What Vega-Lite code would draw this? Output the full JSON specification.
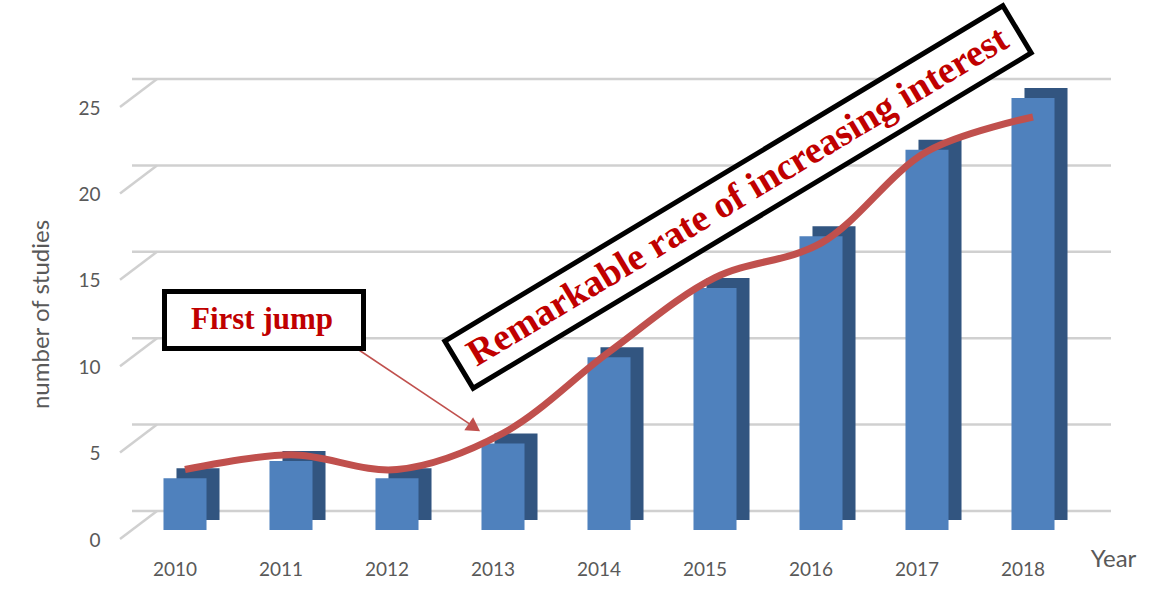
{
  "$schema": "https://vega.github.io/schema/vega-lite/v6.json",
  "width": 954,
  "height": 432,
  "autosize": "none",
  "padding": {"left": 132, "top": 98, "right": 77, "bottom": 85},
  "background": "white",
  "config": {
    "view": {"stroke": null},
    "font": "Lato",
    "axis": {
      "titleFontSize": 24, "titleFontWeight": "normal", "titleColor": "#595959", "titleFont": "Lato",
      "labelFontSize": 19, "labelColor": "#595959", "labelFont": "Lato",
      "ticks": false, "tickSize": 0, "domain": false, "grid": false
    },
    "axisX": {
      "titleX": 981, "titleY": 36, "titleAlign": "center", "titleBaseline": "alphabetic",
      "labelAngle": 0, "labelOffset": -10, "labelPadding": 30
    },
    "axisY": {
      "titlePadding": 24, "labelOffset": 10, "labelPadding": 32
    }
  },
  "datasets": {
    "studies": [
      {"year": "2010", "count": 3},
      {"year": "2011", "count": 4},
      {"year": "2012", "count": 3},
      {"year": "2013", "count": 5},
      {"year": "2014", "count": 10},
      {"year": "2015", "count": 14},
      {"year": "2016", "count": 17},
      {"year": "2017", "count": 22},
      {"year": "2018", "count": 25}
    ],
    "trend": [
      {"year": "2010", "value": 3.5},
      {"year": "2011", "value": 4.35},
      {"year": "2012", "value": 3.5},
      {"year": "2013", "value": 5.6},
      {"year": "2014", "value": 10.3},
      {"year": "2015", "value": 14.6},
      {"year": "2016", "value": 16.6},
      {"year": "2017", "value": 21.9},
      {"year": "2018", "value": 23.9}
    ],
    "grid": [
      {"tick": 0}, {"tick": 5}, {"tick": 10}, {"tick": 15}, {"tick": 20}, {"tick": 25}
    ]
  },
  "layer": [
    {
      "data": {"name": "studies"},
      "mark": {"type": "bar", "color": "#4f81bd", "opacity": 0},
      "encoding": {
        "x": {
          "field": "year", "type": "ordinal", "title": "Year",
          "scale": {"domain": ["2010","2011","2012","2013","2014","2015","2016","2017","2018"], "paddingInner": 0.594, "paddingOuter": 0.297}
        },
        "y": {
          "field": "count", "type": "quantitative", "title": "number of studies",
          "scale": {"domain": [0, 25], "nice": false},
          "axis": {"values": [0, 5, 10, 15, 20, 25]}
        }
      }
    },
    {
      "data": {"name": "grid"},
      "mark": {"type": "rule", "color": "#d0d0d0", "strokeWidth": 2.5, "xOffset": 25, "yOffset": -19},
      "encoding": {
        "y": {"field": "tick", "type": "quantitative", "title": "number of studies"}
      }
    },
    {
      "data": {"name": "grid"},
      "mark": {"type": "point", "shape": "M -1 0.757 L 1 -0.757", "size": 1369, "filled": false, "stroke": "#d0d0d0", "strokeWidth": 2.5, "opacity": 1, "xOffset": -46.5, "yOffset": -5},
      "encoding": {
        "x": {"datum": "2010", "type": "ordinal", "title": "Year"},
        "y": {"field": "tick", "type": "quantitative", "title": "number of studies"}
      }
    },
    {
      "data": {"name": "studies"},
      "mark": {"type": "bar", "color": "#325580", "xOffset": 13, "yOffset": -10},
      "encoding": {
        "x": {"field": "year", "type": "ordinal", "title": "Year"},
        "y": {"field": "count", "type": "quantitative", "title": "number of studies"}
      }
    },
    {
      "data": {"name": "studies"},
      "mark": {"type": "bar", "color": "#4f81bd"},
      "encoding": {
        "x": {"field": "year", "type": "ordinal", "title": "Year"},
        "y": {"field": "count", "type": "quantitative", "title": "number of studies"}
      }
    },
    {
      "data": {"name": "trend"},
      "mark": {"type": "line", "color": "#c0504d", "strokeWidth": 7, "interpolate": "catmull-rom"},
      "encoding": {
        "x": {"field": "year", "type": "ordinal", "title": "Year"},
        "y": {"field": "value", "type": "quantitative", "title": "number of studies"}
      }
    },
    {
      "data": {"values": [{}]},
      "mark": {"type": "rule", "color": "#c0504d", "strokeWidth": 1.6, "xOffset": 41, "x2Offset": -32},
      "encoding": {
        "x": {"datum": "2011", "type": "ordinal", "title": "Year"},
        "x2": {"datum": "2013"},
        "y": {"datum": 11.46, "type": "quantitative", "title": "number of studies"},
        "y2": {"datum": 6.08}
      }
    },
    {
      "data": {"values": [{}]},
      "mark": {"type": "point", "shape": "triangle-right", "angle": 34, "size": 250, "filled": true, "fill": "#c0504d", "opacity": 1, "xOffset": -28.6},
      "encoding": {
        "x": {"datum": "2013", "type": "ordinal", "title": "Year"},
        "y": {"datum": 5.93, "type": "quantitative", "title": "number of studies"}
      }
    },
    {
      "data": {"values": [{}]},
      "mark": {"type": "point", "shape": "M -1.99 -0.57 H 1.99 V 0.57 H -1.99 Z", "size": 10000, "filled": true, "fill": "white", "stroke": "black", "strokeWidth": 5, "opacity": 1, "xOffset": -27},
      "encoding": {
        "x": {"datum": "2011", "type": "ordinal", "title": "Year"},
        "y": {"datum": 12.15, "type": "quantitative", "title": "number of studies"}
      }
    },
    {
      "data": {"values": [{}]},
      "mark": {"type": "text", "text": "First jump", "font": "Liberation Serif", "fontWeight": "bold", "fontSize": 31, "color": "#c00000", "align": "center", "baseline": "middle", "xOffset": -29},
      "encoding": {
        "x": {"datum": "2011", "type": "ordinal", "title": "Year"},
        "y": {"datum": 12.15, "type": "quantitative", "title": "number of studies"}
      }
    },
    {
      "data": {"values": [{}]},
      "mark": {"type": "point", "shape": "M -6.51 -0.55 H 6.51 V 0.55 H -6.51 Z", "size": 10000, "angle": -31, "filled": true, "fill": "white", "stroke": "black", "strokeWidth": 5, "opacity": 1, "xOffset": 23},
      "encoding": {
        "x": {"datum": "2015", "type": "ordinal", "title": "Year"},
        "y": {"datum": 19.27, "type": "quantitative", "title": "number of studies"}
      }
    },
    {
      "data": {"values": [{}]},
      "mark": {"type": "text", "text": "Remarkable rate of increasing interest", "font": "Liberation Serif", "fontWeight": "bold", "fontSize": 38, "color": "#c00000", "align": "center", "baseline": "middle", "angle": -31, "xOffset": 23},
      "encoding": {
        "x": {"datum": "2015", "type": "ordinal", "title": "Year"},
        "y": {"datum": 19.27, "type": "quantitative", "title": "number of studies"}
      }
    }
  ]
}
